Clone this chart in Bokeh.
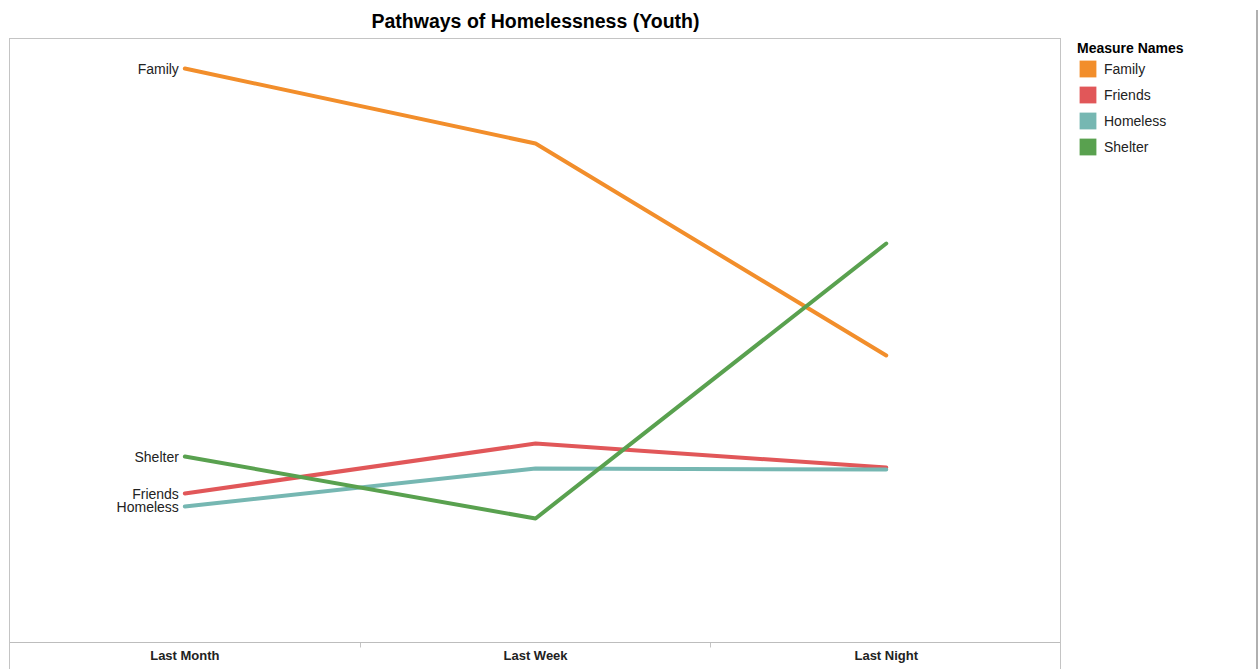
from bokeh.plotting import figure
from bokeh.models import (ColumnDataSource, Range1d, FixedTicker, Legend, LegendItem,
                          InlineStyleSheet)
from bokeh.core.properties import value
from bokeh.embed import file_html
from bokeh.resources import INLINE

# ---- data ----
periods = ["Last Month", "Last Week", "Last Night"]
series_names = ["Family", "Friends", "Homeless", "Shelter"]
family = [114.8, 99.8, 57.4]
friends = [29.8, 39.8, 35.0]
homeless = [27.2, 34.8, 34.6]
shelter = [37.2, 24.8, 79.8]
colors = ["#F28E2B", "#E15759", "#76B7B2", "#59A14F"]

values_by_series = [family, friends, homeless, shelter]
xs = list(range(len(periods)))

FONT = "Liberation Sans"

# pane borders (plot pane 9..1060 px, axis band below it, outer right edge)
css = InlineStyleSheet(css="""
:host { position: relative; }
:host::after { content: ""; position: absolute; left: 9px; top: 38px; width: 1052px;
  height: 631px; box-sizing: border-box; border: 1px solid #c4c4c4; border-bottom: none;
  background: linear-gradient(#bdbdbd, #bdbdbd) no-repeat 0 603px / 100% 1px;
  pointer-events: none; z-index: 10; }
:host::before { content: ""; position: absolute; left: 1256px; top: 10px; width: 2px;
  height: 659px; background: #b0b0b0; pointer-events: none; z-index: 10; }
""")

# one category slot = 350.7 px; plot pane spans 3 slots, legend sits to its right
frame_w = 1250
slot = 350.7
p = figure(width=1259, height=669, output_backend="svg", toolbar_location=None,
           x_range=Range1d(-0.5, -0.5 + frame_w / slot), y_range=Range1d(0, 120.8),
           y_axis_location=None, min_border_left=9, min_border_right=0,
           min_border_top=38, min_border_bottom=27,
           title="Pathways of Homelessness (Youth)", stylesheets=[css])
p.title.align = "left"
p.title.offset = 362
p.title.text_font = FONT
p.title.text_font_size = "19.5px"
p.title.text_font_style = "bold"
p.title.text_color = "#000000"
p.title.standoff = 14

p.xgrid.visible = False
p.ygrid.visible = False
p.outline_line_color = None
p.background_fill_color = "white"
p.border_fill_color = "white"

ax = p.xaxis[0]
ax.ticker = FixedTicker(ticks=xs, minor_ticks=[i + 0.5 for i in xs[:-1]])
ax.major_label_overrides = {i: periods[i] for i in xs}
ax.major_tick_out = 0
ax.major_tick_in = 0
ax.minor_tick_out = 5
ax.minor_tick_in = 0
ax.minor_tick_line_color = "#c4c4c4"
ax.axis_line_color = None
ax.major_label_text_font = FONT
ax.major_label_text_font_size = "13px"
ax.major_label_text_font_style = "bold"
ax.major_label_text_color = "#222222"
ax.major_label_standoff = 0

items = []
for name, vals, col in zip(series_names, values_by_series, colors):
    src = ColumnDataSource(dict(x=xs, y=vals))
    p.line("x", "y", source=src, line_color=col, line_width=4, line_cap="round",
           line_join="round")
    # zero-size rects: invisible in the plot, give square legend swatches
    proxy = p.rect("x", "y", source=src, width=0, height=0, fill_color=col,
                   line_color=None)
    items.append(LegendItem(label=name, renderers=[proxy]))

# line labels at the first period
lab_src = ColumnDataSource(dict(x=[xs[0]] * len(series_names),
                                y=[v[0] for v in values_by_series],
                                t=series_names))
p.text("x", "y", text="t", source=lab_src, x_offset=-6, text_align="right",
       text_baseline="middle", text_font=value(FONT), text_font_size="14px",
       text_color="#222222")

legend = Legend(items=items, location=(1068, 485), title="Measure Names",
                margin=0, padding=1, spacing=5, glyph_width=21, glyph_height=21,
                label_standoff=6, title_standoff=2,
                border_line_color=None, background_fill_alpha=0)
legend.title_text_font = FONT
legend.title_text_font_size = "14px"
legend.title_text_font_style = "bold"
legend.title_text_color = "#000000"
legend.label_text_font = FONT
legend.label_text_font_size = "14px"
legend.label_text_color = "#222222"
p.add_layout(legend, "center")

open("out.html", "w").write(file_html(p, INLINE))
